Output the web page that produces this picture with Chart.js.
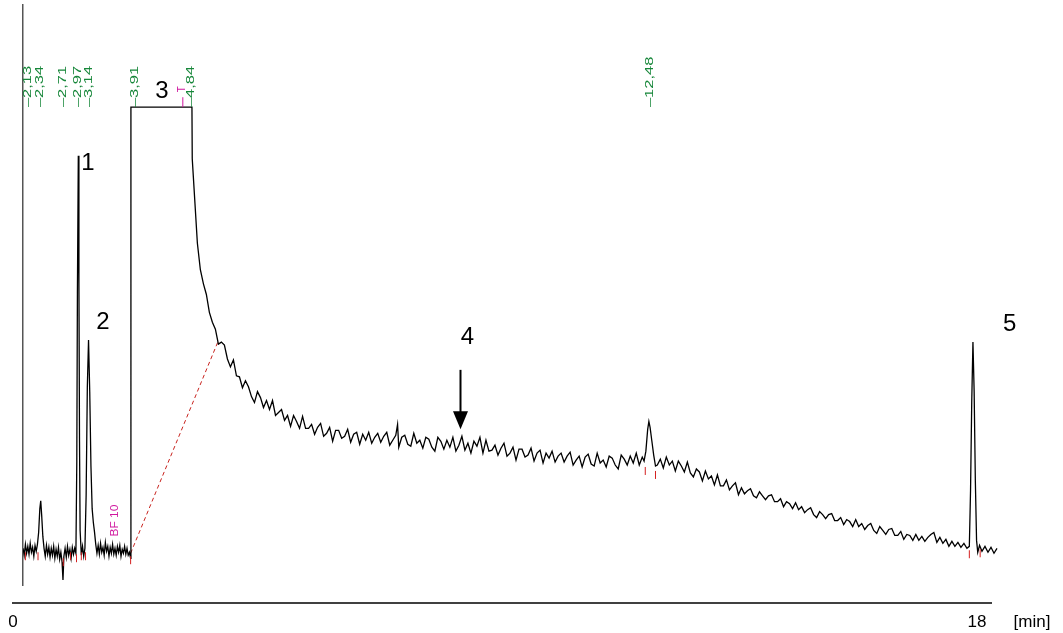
<!DOCTYPE html>
<html>
<head>
<meta charset="utf-8">
<script src="https://cdn.jsdelivr.net/npm/chart.js@4"></script>
<style>
  body { margin: 0; background: #fff; }
  canvas { display: block; }
</style>
</head>
<body>
<canvas id="chromatogram" width="1063" height="633"></canvas>
<script>
// retention time (min) and detector signal
const retentionTime = [
  2.05, 2.07, 2.09, 2.11, 2.13, 2.15, 2.17, 2.19, 2.21, 2.23, 2.25, 2.27, 2.29, 2.31, 2.33, 2.345, 2.36, 2.38, 2.40,
  2.42, 2.44, 2.46, 2.48, 2.50, 2.52, 2.54, 2.56, 2.58, 2.60, 2.62, 2.64, 2.66, 2.68, 2.70, 2.715, 2.73, 2.75, 2.77,
  2.79, 2.81, 2.83, 2.85, 2.87, 2.89, 2.91, 2.93, 2.945, 2.955, 2.97, 2.98, 2.99, 3.00, 3.02, 3.04, 3.06, 3.08, 3.10,
  3.12, 3.14, 3.16, 3.18, 3.20, 3.22, 3.24, 3.26, 3.28, 3.30, 3.32, 3.34, 3.36, 3.38, 3.40, 3.42, 3.44, 3.46, 3.48,
  3.50, 3.52, 3.54, 3.56, 3.58, 3.60, 3.62, 3.64, 3.66, 3.68, 3.70, 3.72, 3.74, 3.76, 3.78, 3.80, 3.82, 3.84, 3.845,
  4.86, 4.865, 4.91,
  4.95, 5.00, 5.05, 5.10, 5.15, 5.20, 5.25, 5.30, 5.35, 5.40,
  5.45, 5.50, 5.55, 5.60, 5.65, 5.70, 5.75, 5.80, 5.85, 5.90,
  5.95, 6.00, 6.05, 6.10, 6.15, 6.20, 6.25, 6.30, 6.35, 6.40,
  6.45, 6.50, 6.55, 6.60, 6.65, 6.70, 6.75, 6.80, 6.85, 6.90,
  6.95, 7.00, 7.05, 7.10, 7.15, 7.20, 7.25, 7.30, 7.35, 7.40,
  7.45, 7.50, 7.55, 7.60, 7.65, 7.70, 7.75, 7.80, 7.85, 7.90,
  7.95, 8.00, 8.05, 8.10, 8.15, 8.20, 8.25, 8.28, 8.30, 8.35,
  8.40, 8.45, 8.50, 8.55, 8.60, 8.65, 8.70, 8.75, 8.80, 8.85,
  8.90, 8.95, 9.00, 9.05, 9.10, 9.15, 9.20, 9.25, 9.30, 9.35,
  9.40, 9.45, 9.50, 9.55, 9.60, 9.65, 9.70, 9.75, 9.80, 9.85,
  9.90, 9.95, 10.00, 10.05, 10.10, 10.15, 10.20, 10.25, 10.30, 10.35,
  10.40, 10.45, 10.50, 10.55, 10.60, 10.65, 10.70, 10.75, 10.80, 10.85,
  10.90, 10.95, 11.00, 11.05, 11.10, 11.15, 11.20, 11.25, 11.30, 11.35,
  11.40, 11.45, 11.50, 11.55, 11.60, 11.65, 11.70, 11.75, 11.80, 11.85,
  11.90, 11.95, 12.00, 12.05, 12.10, 12.15, 12.20, 12.25, 12.30, 12.35,
  12.38, 12.41, 12.44, 12.46, 12.48, 12.51, 12.54, 12.57,
  12.60, 12.65, 12.70, 12.75, 12.80, 12.85, 12.90, 12.95, 13.00, 13.05,
  13.10, 13.15, 13.20, 13.25, 13.30, 13.35, 13.40, 13.45, 13.50, 13.55,
  13.60, 13.65, 13.70, 13.75, 13.80, 13.85, 13.90, 13.95, 14.00, 14.05,
  14.10, 14.15, 14.20, 14.25, 14.30, 14.35, 14.40, 14.45, 14.50, 14.55,
  14.60, 14.65, 14.70, 14.75, 14.80, 14.85, 14.90, 14.95, 15.00, 15.05,
  15.10, 15.15, 15.20, 15.25, 15.30, 15.35, 15.40, 15.45, 15.50, 15.55,
  15.60, 15.65, 15.70, 15.75, 15.80, 15.85, 15.90, 15.95, 16.00, 16.05,
  16.10, 16.15, 16.20, 16.25, 16.30, 16.35, 16.40, 16.45, 16.50, 16.55,
  16.60, 16.65, 16.70, 16.75, 16.80, 16.85, 16.90, 16.95, 17.00, 17.05,
  17.10, 17.15, 17.20, 17.25, 17.30, 17.35, 17.40, 17.45, 17.50, 17.55,
  17.60, 17.65, 17.70, 17.75, 17.79, 17.81, 17.83, 17.85, 17.87, 17.89,
  17.91, 17.93, 17.96, 18.00, 18.05, 18.10, 18.15, 18.20, 18.25
];
const signal = [
  2, -5, 6, -3, 4, -4, 7, -2, 3, -6, 5, -1, 6, 18, 42, 50, 36, 14, 2,
  -6, 5, -4, 3, -7, 2, -5, 4, -8, 1, -6, 3, -9, -2, -12, -30, -6, 2, -7,
  4, -5, 1, -8, 3, -4, 2, -3, 90, 260, 398, 270, 110, 20, -5, 4, -6, 2, 55,
  165, 212, 160, 85, 42, 28, 18, 6, -3, 5, -4, 7, -2, 3, -5, 8, -1, 4, -6,
  3, -3, 6, -4, 2, -5, 4, -2, 5, -6, 1, -3, 4, -4, 2, -5, -2, -8, 447,
  447, 395, 350,
  310, 283, 269, 258, 240, 230, 223, 208, 210, 207,
  193, 185, 192, 176, 175, 164, 171, 165, 155, 149,
  160, 154, 144, 151, 142, 151, 136, 139, 142, 131,
  136, 125, 136, 130, 123, 135, 123, 123, 127, 117,
  124, 128, 115, 118, 124, 110, 121, 121, 113, 115,
  122, 109, 117, 119, 107, 117, 111, 119, 108, 114,
  118, 109, 115, 119, 106, 111, 116, 127, 104, 114,
  116, 107, 105, 118, 108, 111, 103, 114, 112, 104,
  100, 114, 110, 102, 111, 104, 114, 100, 106, 115,
  101, 108, 98, 110, 105, 114, 98, 111, 100, 101,
  106, 96, 103, 108, 95, 98, 104, 91, 102, 102,
  94, 96, 103, 90, 98, 101, 88, 98, 93, 100,
  89, 95, 98, 89, 95, 99, 86, 91, 95, 84,
  94, 97, 87, 85, 98, 88, 91, 84, 95, 93,
  86, 82, 96, 92, 86, 95, 88, 98, 86, 94,
  90, 100, 122, 130, 124, 110, 96, 85,
  86, 92, 83, 94, 86, 90, 80, 90, 85, 79,
  89, 78, 74, 82, 79, 70, 80, 72, 75, 66,
  76, 65, 65, 71, 61, 65, 68, 56, 63, 57,
  60, 62, 55, 53, 59, 55, 51, 55, 56, 49,
  49, 52, 44, 49, 47, 42, 48, 41, 44, 38,
  41, 43, 36, 33, 39, 36, 32, 36, 37, 30,
  30, 33, 26, 31, 29, 24, 31, 24, 27, 21,
  25, 27, 20, 17, 24, 20, 16, 21, 22, 15,
  15, 19, 11, 16, 15, 10, 16, 10, 14, 9,
  13, 16, 18, 8, 13, 7, 11, 4, 9, 4,
  8, 3, 7, 2, 4, 60, 150, 210, 160, 70,
  10, -2, 5, -1, 4, -2, 3, -3, 2
];

// integration baseline drawn under the solvent peak (red dashed)
const baselineTime = [3.84, 5.29];
const baselineSignal = [-3, 210];

// peak start / end marks
const markTime = [2.09, 2.30, 2.72, 2.84, 2.94, 3.02, 3.09, 3.84, 12.40, 12.57, 17.79, 17.97];
const markSignal = [-6, -6, -12, -6, -8, -6, -6, -10, 80, 76, -4, -3];

// retention time labels printed by the integrator
const rtLabels = [2.13, 2.34, 2.71, 2.97, 3.14, 3.91, 4.84, 12.48];

// peak numbers and where they sit
const peakNames = ["1", "2", "3", "4", "5"];
const peakNameTime = [3.13, 3.38, 4.36, 9.44, 18.46];
const peakNameSignal = [390, 230, 463, 215, 228];

// arrow pointing to peak 4
const arrowTime = 9.32;
const arrowFrom = 182;
const arrowTo = 122;

// bottom time axis
const timeAxisLabels = ["0", "18"];
const timeAxisUnit = "[min]";

const trace = retentionTime.map((t, i) => ({ x: t, y: signal[i] }));
const baseline = baselineTime.map((t, i) => ({ x: t, y: baselineSignal[i] }));
const marks = markTime.map((t, i) => ({ x: t, y: markSignal[i] }));

const annotations = {
  id: "annotations",
  afterDatasetsDraw(chart) {
    const ctx = chart.ctx;
    const x = chart.scales.x;
    const y = chart.scales.y;
    ctx.save();

    // green retention times, rotated and a bit stretched like the printout
    ctx.fillStyle = "#17873a";
    ctx.font = "11px 'Liberation Sans', Arial, sans-serif";
    ctx.textAlign = "left";
    ctx.textBaseline = "middle";
    rtLabels.forEach((rt) => {
      ctx.save();
      ctx.translate(x.getPixelForValue(rt), y.getPixelForValue(447));
      ctx.rotate(-Math.PI / 2);
      ctx.scale(1.5, 1);
      ctx.fillText("\u2013" + rt.toFixed(2).replace(".", ","), 0, 0);
      ctx.restore();
    });

    // magenta integrator events
    ctx.fillStyle = "#d0179f";
    ctx.strokeStyle = "#d0179f";
    ctx.lineWidth = 1;
    ctx.font = "10px 'Liberation Sans', Arial, sans-serif";
    ctx.save();
    ctx.translate(x.getPixelForValue(4.7), y.getPixelForValue(465));
    ctx.rotate(-Math.PI / 2);
    ctx.textAlign = "center";
    ctx.fillText("T", 0, 0);
    ctx.restore();
    ctx.beginPath();
    ctx.moveTo(x.getPixelForValue(4.7) + 0.5, y.getPixelForValue(457));
    ctx.lineTo(x.getPixelForValue(4.7) + 0.5, y.getPixelForValue(447));
    ctx.stroke();
    ctx.save();
    ctx.translate(x.getPixelForValue(3.58), y.getPixelForValue(30));
    ctx.rotate(-Math.PI / 2);
    ctx.scale(1.2, 1);
    ctx.textAlign = "center";
    ctx.fillText("BF 10", 0, 0);
    ctx.restore();

    // peak numbers
    ctx.fillStyle = "#000";
    ctx.font = "24px 'Liberation Sans', Arial, sans-serif";
    ctx.textAlign = "center";
    peakNames.forEach((name, i) => {
      ctx.fillText(name, x.getPixelForValue(peakNameTime[i]), y.getPixelForValue(peakNameSignal[i]));
    });

    // arrow
    const ax = Math.round(x.getPixelForValue(arrowTime)) + 0.5;
    const y0 = y.getPixelForValue(arrowFrom);
    const y1 = y.getPixelForValue(arrowTo);
    ctx.strokeStyle = "#000";
    ctx.lineWidth = 2;
    ctx.beginPath();
    ctx.moveTo(ax, y0);
    ctx.lineTo(ax, y1 - 16);
    ctx.stroke();
    ctx.beginPath();
    ctx.moveTo(ax - 7.5, y1 - 18);
    ctx.lineTo(ax + 7.5, y1 - 18);
    ctx.lineTo(ax, y1);
    ctx.closePath();
    ctx.fill();

    // time axis under the trace
    ctx.lineWidth = 1.5;
    ctx.beginPath();
    ctx.moveTo(12, 603);
    ctx.lineTo(992, 603);
    ctx.stroke();
    ctx.font = "17px 'Liberation Sans', Arial, sans-serif";
    ctx.textBaseline = "middle";
    ctx.fillText(timeAxisLabels[0], 13, 622);
    ctx.fillText(timeAxisLabels[1], 977, 622);
    ctx.fillText(timeAxisUnit, 1032, 622);
    ctx.restore();
  }
};

new Chart(document.getElementById("chromatogram").getContext("2d"), {
  type: "scatter",
  data: {
    datasets: [
      {
        label: "Signal",
        data: trace,
        showLine: true,
        borderColor: "#000",
        borderWidth: 1.3,
        pointRadius: 0,
        tension: 0,
        order: 1
      },
      {
        label: "Baseline",
        data: baseline,
        showLine: true,
        borderColor: "#c8231e",
        borderWidth: 1,
        borderDash: [4, 3],
        pointRadius: 0,
        order: 2
      },
      {
        label: "Peak marks",
        data: marks,
        showLine: false,
        pointStyle: "line",
        rotation: 90,
        pointRadius: 4,
        borderColor: "#d42020",
        borderWidth: 1,
        order: 0
      }
    ]
  },
  options: {
    responsive: false,
    animation: false,
    devicePixelRatio: 1,
    layout: {
      padding: { left: 23, right: 63, top: 0, bottom: 48 }
    },
    plugins: {
      legend: { display: false },
      tooltip: { enabled: false },
      title: { display: false }
    },
    scales: {
      x: {
        type: "linear",
        min: 2.05,
        max: 18.3,
        display: false
      },
      y: {
        type: "linear",
        min: -35,
        max: 550,
        display: true,
        afterFit: (scale) => { scale.width = 0; },
        ticks: { display: false },
        grid: { display: false },
        border: { display: true, color: "#555", width: 1.5 }
      }
    }
  },
  plugins: [annotations]
});
</script>
</body>
</html>
